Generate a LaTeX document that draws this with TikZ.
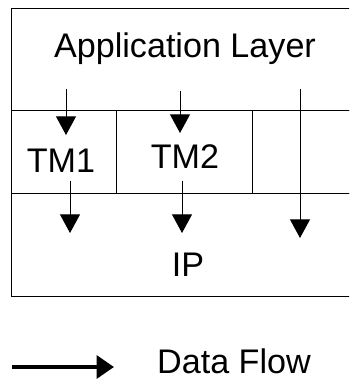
\documentclass[tikz,border=0pt]{standalone}
\usepackage{fontspec}
\setmainfont{Liberation Sans}
\usetikzlibrary{arrows.meta}

\tikzset{every picture/.style={line width=0.75pt}}
\tikzset{
	cell/.style={draw, inner sep=0pt, outer sep=0pt, anchor=north west},
	lbl/.style={inner sep=0.75pt, anchor=base, font=\fontsize{25.6}{30}\selectfont},
	flow/.style={-{Triangle[length=14pt,width=15pt]}},
	legendflow/.style={line width=3pt, -{Triangle[length=13pt,width=17pt]}}
}

\begin{document}
\begin{tikzpicture}[x=0.75pt,y=0.75pt,yscale=-1,xscale=1]
		\useasboundingbox (0,0) rectangle (349,381);
		\clip (0,0) rectangle (349,381);
		
		%Layers
		\node[cell, minimum width=261pt, minimum height=76.5pt] (app) at (11,9) {};
		\node[cell, minimum width=78.75pt, minimum height=61.5pt] (tm1) at (11,111) {};
		\node[cell, minimum width=102pt, minimum height=61.5pt] (tm2) at (116,111) {};
		\node[cell, minimum width=80.25pt, minimum height=61.5pt] (tm3) at (252,111) {};
		\node[cell, minimum width=261pt, minimum height=77.25pt] (ip) at (11,193) {};
		
		%Labels
		\node[lbl] (applbl) at (185,58) {Application Layer};
		\node[lbl] (tm1lbl) at (61,172) {TM1};
		\node[lbl] (tm2lbl) at (185,168) {TM2};
		\node[lbl] (iplbl) at (188,276) {IP};
		
		%Flow arrows
		\coordinate (s1) at (66,89);   \coordinate (e1) at (66,135);
		\coordinate (s2) at (180,91);  \coordinate (e2) at (180,133);
		\coordinate (s3) at (70,181);  \coordinate (e3) at (70,233);
		\coordinate (s4) at (182,181); \coordinate (e4) at (182,233);
		\coordinate (s5) at (300,89);  \coordinate (e5) at (300,238);
		\draw[flow] (s1) -- (e1);
		\draw[flow] (s2) -- (e2);
		\draw[flow] (s3) -- (e3);
		\draw[flow] (s4) -- (e4);
		\draw[flow] (s5) -- (e5);
		
		%Legend
		\coordinate (ls) at (12,367);
		\coordinate (le) at (114,367);
		\draw[legendflow] (ls) -- (le);
		\node[lbl, inner sep=0pt] (legendlbl) at (234,373) {Data Flow};
		
	\end{tikzpicture}
\end{document}
